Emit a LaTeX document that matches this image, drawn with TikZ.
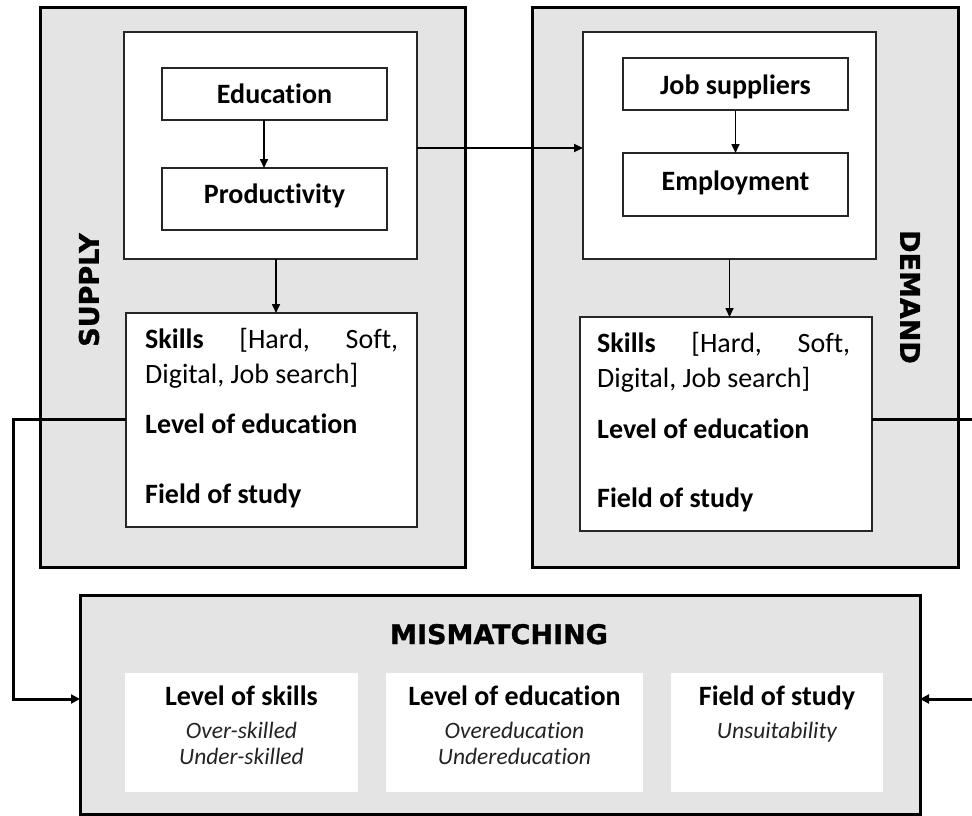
\documentclass[tikz,border=0pt]{standalone}
\usepackage{fontspec}
\setmainfont[Ligatures={NoCommon}]{Carlito}
\newfontfamily\headfont[BoldFeatures={FakeBold=1.2}]{DejaVu Sans}
\usetikzlibrary{arrows.meta}
\definecolor{panelgray}{RGB}{228,228,228}
\definecolor{italgray}{RGB}{35,35,35}
\tikzset{
  outerbox/.style={draw=black, line width=3pt, fill=panelgray, anchor=north west, inner sep=0pt, outer sep=0pt},
  innerbox/.style={draw=black!85, line width=1.5pt, fill=white, anchor=north west, inner sep=0pt, outer sep=0pt},
  whitebox/.style={fill=white, anchor=north west, inner sep=0pt, outer sep=0pt},
  boldtxt/.style={font=\fontsize{28}{34}\selectfont\bfseries, inner sep=0pt, anchor=base},
  plaintxt/.style={font=\fontsize{28}{34}\selectfont, inner sep=0pt, anchor=base west},
  itxt/.style={font=\fontsize{23.5}{28}\selectfont\itshape, text=italgray, inner sep=0pt, anchor=base},
  headtxt/.style={font=\fontsize{27}{32}\selectfont\headfont\bfseries, inner sep=0pt},
  arr/.style={line width=1.6pt, -{Triangle[length=9pt,width=8pt]}},
  bigarr/.style={line width=3pt, -{Triangle[length=9pt,width=9pt]}},
}
\begin{document}
\begin{tikzpicture}[x=1pt,y=-1pt]
\useasboundingbox (0,0) rectangle (972,816);

% SUPPLY panel
\node[outerbox, minimum width=425pt, minimum height=559pt] (supply) at (40,8) {};
\node[innerbox, minimum width=293pt, minimum height=227pt] (supin) at (124,32) {};
\node[innerbox, minimum width=225pt, minimum height=52pt] (edu) at (162,68) {};
\node[innerbox, minimum width=225pt, minimum height=62pt] (prod) at (162,168) {};
\node[innerbox, minimum width=291pt, minimum height=214pt] (supsk) at (126,313) {};
\node[boldtxt] (eduT) at (274.5,103) {Education};
\node[boldtxt] (prodT) at (274.5,203) {Productivity};
\node[headtxt, rotate=90] (supT) at (89,290) {SUPPLY};
\node[plaintxt] (supL1) at (145,348) {\hbox to 253pt{\textbf{Skills}\hfill[Hard,\hfill Soft,}};
\node[plaintxt] (supL2) at (145,383) {Digital, Job search]};
\node[plaintxt, font=\fontsize{28}{34}\selectfont\bfseries] (supL3) at (145,433) {Level of education};
\node[plaintxt, font=\fontsize{28}{34}\selectfont\bfseries] (supL4) at (145,503) {Field of study};

% DEMAND panel
\node[outerbox, minimum width=426pt, minimum height=559pt] (demand) at (532,8) {};
\node[innerbox, minimum width=293pt, minimum height=227pt] (demin) at (583,32) {};
\node[innerbox, minimum width=225pt, minimum height=52pt] (jobs) at (623,58) {};
\node[innerbox, minimum width=225pt, minimum height=63pt] (emp) at (623,153) {};
\node[innerbox, minimum width=292pt, minimum height=214pt] (demsk) at (580,317) {};
\node[boldtxt] (jobsT) at (735.5,94) {Job suppliers};
\node[boldtxt] (empT) at (735.5,190) {Employment};
\node[headtxt, rotate=-90] (demT) at (910,297) {DEMAND};
\node[plaintxt] (demL1) at (597,352) {\hbox to 253pt{\textbf{Skills}\hfill[Hard,\hfill Soft,}};
\node[plaintxt] (demL2) at (597,387) {Digital, Job search]};
\node[plaintxt, font=\fontsize{28}{34}\selectfont\bfseries] (demL3) at (597,438) {Level of education};
\node[plaintxt, font=\fontsize{28}{34}\selectfont\bfseries] (demL4) at (597,507) {Field of study};

% MISMATCHING panel
\node[outerbox, minimum width=840pt, minimum height=219pt] (mis) at (80,595) {};
\node[headtxt, anchor=base] (misT) at (499,644) {MISMATCHING};
\node[whitebox, minimum width=233pt, minimum height=119pt] (w1) at (125,673) {};
\node[whitebox, minimum width=257pt, minimum height=119pt] (w2) at (386,673) {};
\node[whitebox, minimum width=212pt, minimum height=119pt] (w3) at (671,673) {};
\node[boldtxt] (w1T) at (241.5,705) {Level of skills};
\node[itxt] (w1a) at (241.5,738) {Over-skilled};
\node[itxt] (w1b) at (241.5,764) {Under-skilled};
\node[boldtxt] (w2T) at (514.5,705) {Level of education};
\node[itxt] (w2a) at (514.5,738) {Overeducation};
\node[itxt] (w2b) at (514.5,764) {Undereducation};
\node[boldtxt] (w3T) at (777,705) {Field of study};
\node[itxt] (w3a) at (777,738) {Unsuitability};

% connectors
\draw[arr] ([xshift=-10.5pt]edu.south) -- ([xshift=-10.5pt]prod.north);
\draw[arr] (jobs.south) -- (emp.north);
\draw[arr] ([xshift=5.5pt]supin.south) -- ([xshift=5.5pt]supin.south |- supsk.north);
\draw[arr] (demin.south) -- (demin.south |- demsk.north);
\draw[arr, line width=2pt] ([yshift=-2.5pt]supin.east) -- ([yshift=-2.5pt]demin.west);

\coordinate (lc1) at (13,419);
\coordinate (lc2) at (13,699);
\coordinate (rc1) at (976,419);
\coordinate (rc2) at (976,699);
\draw[bigarr] (supsk.west |- lc1) -- (lc1) -- (lc2) -- (mis.west |- lc2);
\draw[bigarr] ([yshift=5pt]demsk.east) -- (rc1) -- (rc2) -- (mis.east |- rc2);
\end{tikzpicture}
\end{document}
